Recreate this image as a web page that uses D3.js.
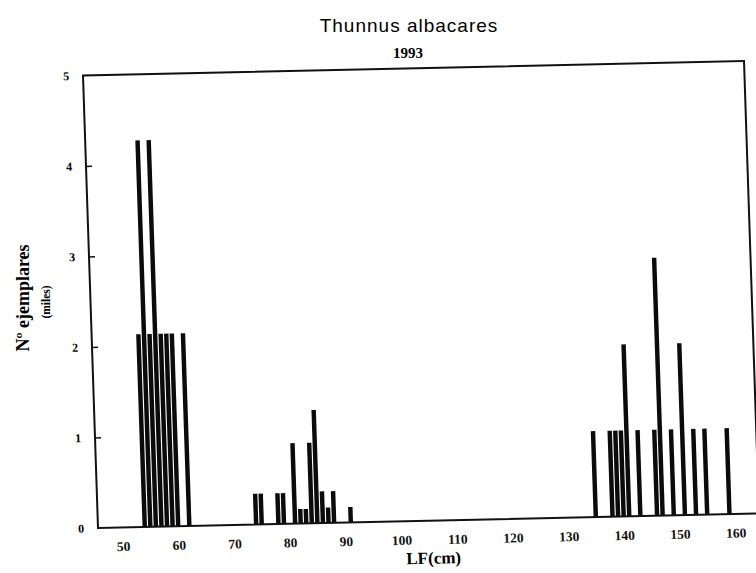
<!DOCTYPE html>
<html>
<head>
<meta charset="utf-8">
<script src="https://cdn.jsdelivr.net/npm/d3@7"></script>
<style>
  html, body { margin: 0; padding: 0; background: #fff; }
  svg { display: block; }
</style>
</head>
<body>
<svg id="chart" width="756" height="573"></svg>
<script>
// ---- data (length class in cm, thousands of fish) ----
const lengthClasses = [54, 55, 56, 57, 58, 59, 60, 62,
                       74, 75, 78, 79, 81, 82, 83, 84, 85, 86, 87, 88, 91,
                       135, 138, 139, 140, 141, 143, 146, 147, 149, 151, 153, 155, 159];
const counts = [2.13, 4.27, 2.13, 4.27, 2.13, 2.13, 2.13, 2.13,
                0.34, 0.34, 0.34, 0.34, 0.89, 0.16, 0.16, 0.89, 1.25, 0.35, 0.17, 0.35, 0.17,
                0.95, 0.95, 0.95, 0.95, 1.9, 0.95, 0.95, 2.85, 0.95, 1.9, 0.95, 0.95, 0.95];
const xTicks = [50, 60, 70, 80, 90, 100, 110, 120, 130, 140, 150, 160];
const yTicks = [0, 1, 2, 3, 4, 5];
const titleText = "Thunnus albacares";
const yearText = "1993";
const xLabel = "LF(cm)";
const yLabel = "Nº ejemplares";
const yLabelSub = "(miles)";

// ---- layout ----
const svg = d3.select("#chart");
const W = 661, H = 452.5;
const serif = "'Liberation Serif', 'DejaVu Serif', serif";

const x = d3.scaleLinear().domain([45.6, 164.3]).range([0, W]);
const y = d3.scaleLinear().domain([0, 5]).range([H, 0]);
const bw = (x(1) - x(0)) * 0.8;

// scanned page is slightly skewed: reproduce with an affine transform
const g = svg.append("g")
  .attr("transform", `matrix(1, ${-14.5 / W}, ${15 / H}, 1, 83, 75.5)`);

// bars
g.selectAll("rect.bar")
  .data(lengthClasses.map((l, i) => ({ l, c: counts[i] })))
  .join("rect")
  .attr("class", "bar")
  .attr("x", d => x(d.l) - bw / 2)
  .attr("width", bw)
  .attr("y", d => y(d.c))
  .attr("height", d => H - y(d.c))
  .attr("fill", "#0b0b0b");

// frame
g.append("rect")
  .attr("x", 0).attr("y", 0).attr("width", W).attr("height", H)
  .attr("fill", "none").attr("stroke", "#111").attr("stroke-width", 2);

// y axis: inward ticks + labels
const yAxis = d3.axisRight(y).tickValues(yTicks.filter(t => t > 0 && t < 5))
  .tickSize(6).tickFormat("");
g.append("g").call(yAxis).call(a => a.select(".domain").remove())
  .selectAll("line").attr("stroke", "#111").attr("stroke-width", 1.5);

g.selectAll("text.ytl")
  .data(yTicks)
  .join("text")
  .attr("class", "ytl")
  .attr("x", -14)
  .attr("y", d => y(d))
  .attr("dy", "0.35em")
  .attr("text-anchor", "end")
  .attr("font-family", serif)
  .attr("font-weight", "bold")
  .attr("font-size", 12)
  .text(d => d);

// x tick labels (no tick marks in original)
const xAxis = d3.axisBottom(x).tickValues(xTicks).tickSize(0).tickPadding(14);
const xa = g.append("g").attr("transform", `translate(0,${H})`).call(xAxis);
xa.select(".domain").remove();
xa.selectAll("text")
  .attr("font-family", serif)
  .attr("font-weight", "bold")
  .attr("font-size", 13.5)
  .attr("fill", "#111");

// x label
g.append("text")
  .attr("x", W / 2 + 4)
  .attr("y", H + 43)
  .attr("text-anchor", "middle")
  .attr("font-family", serif)
  .attr("font-weight", "bold")
  .attr("font-size", 17)
  .text(xLabel);

// y labels (rotated)
svg.append("text")
  .attr("transform", "translate(29,298) rotate(-90)")
  .attr("text-anchor", "middle")
  .attr("font-family", serif)
  .attr("font-weight", "bold")
  .attr("font-size", 18)
  .text(yLabel);
svg.append("text")
  .attr("transform", "translate(50,302) rotate(-90)")
  .attr("text-anchor", "middle")
  .attr("font-family", serif)
  .attr("font-weight", "bold")
  .attr("font-size", 11.5)
  .text(yLabelSub);

// titles
svg.append("text")
  .attr("x", 409).attr("y", 32)
  .attr("text-anchor", "middle")
  .attr("font-family", "'Liberation Sans', Arial, sans-serif")
  .attr("font-size", 19)
  .attr("letter-spacing", 1)
  .text(titleText);
svg.append("text")
  .attr("x", 408).attr("y", 58)
  .attr("text-anchor", "middle")
  .attr("font-family", serif)
  .attr("font-weight", "bold")
  .attr("font-size", 15)
  .text(yearText);
</script>
</body>
</html>
